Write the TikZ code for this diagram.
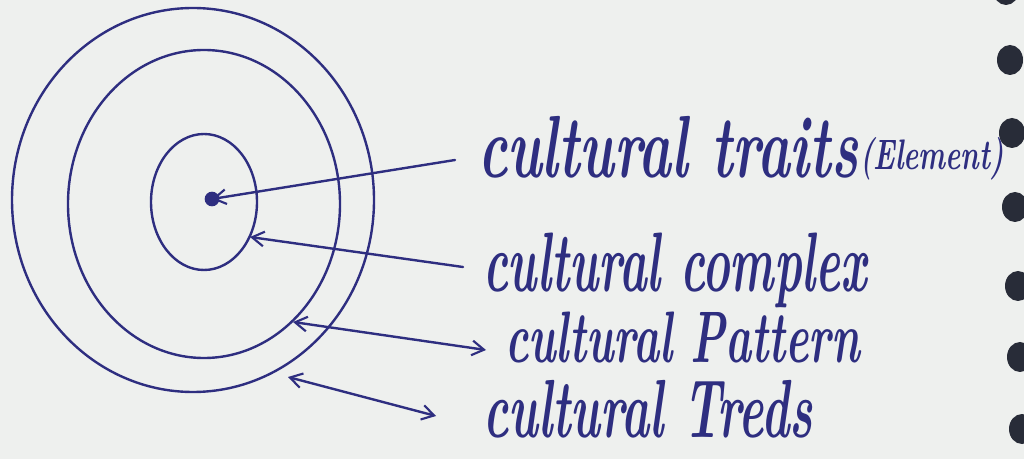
\documentclass[tikz,border=0pt]{standalone}
\usepackage{graphicx}
\usetikzlibrary{arrows.meta}
\definecolor{ink}{RGB}{46,46,128}
\definecolor{paper}{RGB}{238,240,238}
\definecolor{hole}{RGB}{40,44,56}
\begin{document}
\begin{tikzpicture}[x=0.75pt,y=-0.75pt,
  >={Straight Barb[length=9pt,width=11pt,line width=1.6pt]},
  inkline/.style={draw=ink,line width=1.8pt,line cap=round},
  lbl/.style={text=ink,anchor=base west,inner sep=0pt,outer sep=0pt,font=\bfseries\itshape},
  ring/.style={inkline},
  binderhole/.style={fill=hole}]
\fill[paper] (0,0) rectangle (1024,459);
\useasboundingbox (0,0) rectangle (1024,459);
% binder holes
\foreach \xx/\yy in {1006/-10,1010/60,1012/133,1015/207,1018/286,1020/357,1022/429}
  \fill[binderhole] (\xx,\yy) ellipse [x radius=13, y radius=15];
% rings
\draw[ring] (193,200) ellipse [x radius=181, y radius=192];
\draw[ring] (204,204) ellipse [x radius=136, y radius=154];
\draw[ring] (204,202) ellipse [x radius=53, y radius=68];
\node[circle,fill=ink,inner sep=0pt,minimum size=11pt] (dot) at (212,199) {};
% labels
\node[lbl] (traits) at (478,178) {\resizebox{285pt}{46pt}{cultural traits}};
\node[lbl] (element) at (860,170) {\resizebox{108pt}{24pt}{(Element)}};
\node[lbl] (complex) at (483,292) {\resizebox{288pt}{44pt}{cultural complex}};
\node[lbl] (pattern) at (505,363) {\resizebox{266pt}{38pt}{cultural Pattern}};
\node[lbl] (trends) at (483,437) {\resizebox{247pt}{43pt}{cultural Treds}};
% connector end points
\coordinate (tA) at (455,160);
\coordinate (cA) at (463,267);
\coordinate (cB) at (250,237);
\coordinate (pA) at (293,322);
\coordinate (pB) at (486,350);
\coordinate (rA) at (288,377);
\coordinate (rB) at (436,416);
% connectors
\draw[inkline,->] (tA) -- (dot.center);
\draw[inkline,->] (cA) -- (cB);
\draw[inkline,<->] (pA) -- (pB);
\draw[inkline,<->] (rA) -- (rB);
\end{tikzpicture}
\end{document}
